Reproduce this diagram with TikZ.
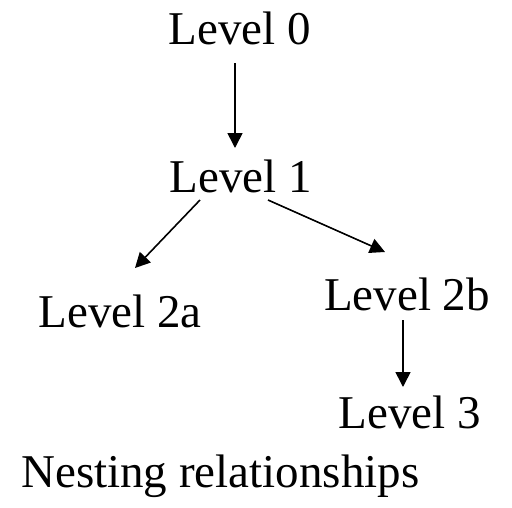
\documentclass[tikz,border=0pt]{standalone}
\usepackage{fontspec}
\setmainfont{Liberation Serif}
\usetikzlibrary{arrows.meta,calc}
\begin{document}
\begin{tikzpicture}[x=1pt,y=-1pt,
  lbl/.style={anchor=base,inner sep=0pt,font=\fontsize{47}{56}\selectfont},
  arr/.style={line width=1.6pt,-{Triangle[length=15pt,width=15pt]}}]
\useasboundingbox (0,0) rectangle (512,507);
\node[lbl] (l0) at (240,44) {Level 0};
\node[lbl] (l1) at (241,192) {Level 1};
\node[lbl] (l2a) at (120,327) {Level 2a};
\node[lbl] (l2b) at (407,310) {Level 2b};
\node[lbl] (l3) at (410,428) {Level 3};
\node[lbl,anchor=base west] (cap) at (21,487) {Nesting relationships};
\draw[arr] ($(l0.base)+(-5,19)$) -- ($(l1.base)+(-6,-44)$);
\draw[arr] ($(l1.base)+(-41,8)$) -- ($(l2a.base)+(15,-59)$);
\draw[arr] ($(l1.base)+(27,8)$) -- ($(l2b.base)+(-22,-58)$);
\draw[arr] ($(l2b.base)+(-4,10)$) -- ($(l3.base)+(-7,-41)$);
\end{tikzpicture}
\end{document}
